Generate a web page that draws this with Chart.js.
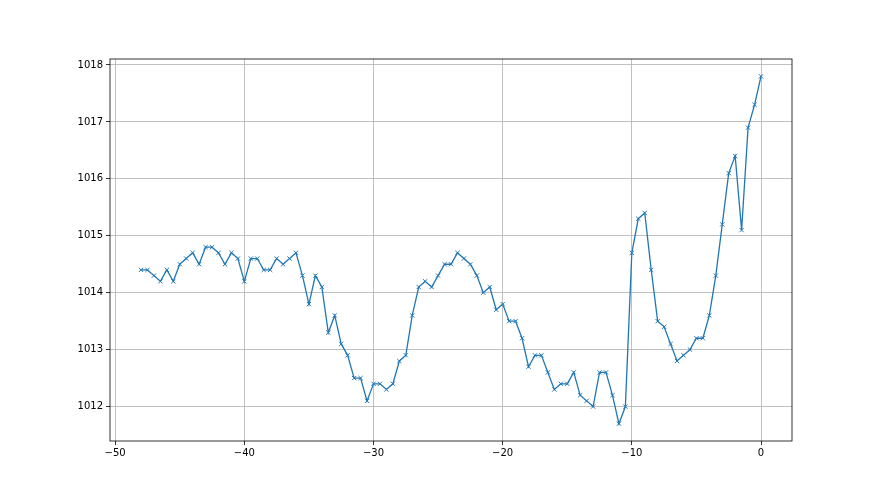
<!DOCTYPE html>
<html>
<head>
<meta charset="utf-8">
<script src="https://cdn.jsdelivr.net/npm/chart.js@4/dist/chart.umd.min.js"></script>
<style>
  html, body { margin: 0; padding: 0; background: #fff; }
  canvas { display: block; }
</style>
</head>
<body>
<canvas id="pressure" width="880" height="495"></canvas>
<script>
// hours before now, sampled every half hour
const hours = [
  -48, -47.5, -47, -46.5, -46, -45.5, -45, -44.5, -44, -43.5,
  -43, -42.5, -42, -41.5, -41, -40.5, -40, -39.5, -39, -38.5,
  -38, -37.5, -37, -36.5, -36, -35.5, -35, -34.5, -34, -33.5,
  -33, -32.5, -32, -31.5, -31, -30.5, -30, -29.5, -29, -28.5,
  -28, -27.5, -27, -26.5, -26, -25.5, -25, -24.5, -24, -23.5,
  -23, -22.5, -22, -21.5, -21, -20.5, -20, -19.5, -19, -18.5,
  -18, -17.5, -17, -16.5, -16, -15.5, -15, -14.5, -14, -13.5,
  -13, -12.5, -12, -11.5, -11, -10.5, -10, -9.5, -9, -8.5,
  -8, -7.5, -7, -6.5, -6, -5.5, -5, -4.5, -4, -3.5,
  -3, -2.5, -2, -1.5, -1, -0.5, 0
]
const pressure = [
  1014.4, 1014.4, 1014.3, 1014.2, 1014.4, 1014.2, 1014.5, 1014.6, 1014.7, 1014.5,
  1014.8, 1014.8, 1014.7, 1014.5, 1014.7, 1014.6, 1014.2, 1014.6, 1014.6, 1014.4,
  1014.4, 1014.6, 1014.5, 1014.6, 1014.7, 1014.3, 1013.8, 1014.3, 1014.1, 1013.3,
  1013.6, 1013.1, 1012.9, 1012.5, 1012.5, 1012.1, 1012.4, 1012.4, 1012.3, 1012.4,
  1012.8, 1012.9, 1013.6, 1014.1, 1014.2, 1014.1, 1014.3, 1014.5, 1014.5, 1014.7,
  1014.6, 1014.5, 1014.3, 1014.0, 1014.1, 1013.7, 1013.8, 1013.5, 1013.5, 1013.2,
  1012.7, 1012.9, 1012.9, 1012.6, 1012.3, 1012.4, 1012.4, 1012.6, 1012.2, 1012.1,
  1012.0, 1012.6, 1012.6, 1012.2, 1011.7, 1012.0, 1014.7, 1015.3, 1015.4, 1014.4,
  1013.5, 1013.4, 1013.1, 1012.8, 1012.9, 1013.0, 1013.2, 1013.2, 1013.6, 1014.3,
  1015.2, 1016.1, 1016.4, 1015.1, 1016.9, 1017.3, 1017.8
]
const xTicks = [-50, -40, -30, -20, -10, 0]
const yTicks = [1012, 1013, 1014, 1015, 1016, 1017, 1018]

// matplotlib style 5% margins
const xPad = (Math.max(...hours) - Math.min(...hours)) * 0.05
const yPad = (Math.max(...pressure) - Math.min(...pressure)) * 0.05

const frame = {
  id: 'frame',
  beforeDraw(chart) {
    const c = chart.ctx
    c.save()
    c.fillStyle = '#fff'
    c.fillRect(0, 0, chart.width, chart.height)
    c.restore()
  },
  afterDraw(chart) {
    const a = chart.chartArea
    const c = chart.ctx
    c.save()
    c.strokeStyle = '#000'
    c.lineWidth = 0.8
    c.strokeRect(a.left, a.top, a.right - a.left, a.bottom - a.top)
    c.restore()
  }
}

const grid = {
  color: '#b0b0b0',
  lineWidth: 0.8,
  tickColor: '#000',
  tickLength: 4,
  drawTicks: true
}

const plain = v => String(v).replace('-', '\u2212')

new Chart(document.getElementById('pressure').getContext('2d'), {
  type: 'line',
  data: {
    datasets: [{
      data: hours.map((h, i) => ({ x: h, y: pressure[i] })),
      borderColor: '#1f77b4',
      borderWidth: 1.3,
      pointStyle: 'crossRot',
      pointRadius: 3,
      pointBorderWidth: 1,
      pointBorderColor: '#1f77b4',
      pointHoverRadius: 3,
      tension: 0,
      fill: false
    }]
  },
  options: {
    responsive: false,
    animation: false,
    events: [],
    layout: { padding: { top: 59, right: 88, left: 0, bottom: 0 } },
    plugins: { legend: { display: false }, tooltip: { enabled: false } },
    scales: {
      x: {
        type: 'linear',
        min: Math.min(...hours) - xPad,
        max: Math.max(...hours) + xPad,
        afterBuildTicks: s => { s.ticks = xTicks.map(v => ({ value: v })) },
        afterFit: s => { s.height = 54 },
        grid: grid,
        border: { display: false },
        ticks: { color: '#000', padding: 2, maxRotation: 0, callback: plain,
                 font: { family: 'DejaVu Sans', size: 10 } }
      },
      y: {
        min: Math.min(...pressure) - yPad,
        max: Math.max(...pressure) + yPad,
        afterBuildTicks: s => { s.ticks = yTicks.map(v => ({ value: v })) },
        afterFit: s => { s.width = 110 },
        grid: grid,
        border: { display: false },
        ticks: { color: '#000', padding: 3, callback: plain,
                 font: { family: 'DejaVu Sans', size: 10 } }
      }
    }
  },
  plugins: [frame]
})
</script>
</body>
</html>
